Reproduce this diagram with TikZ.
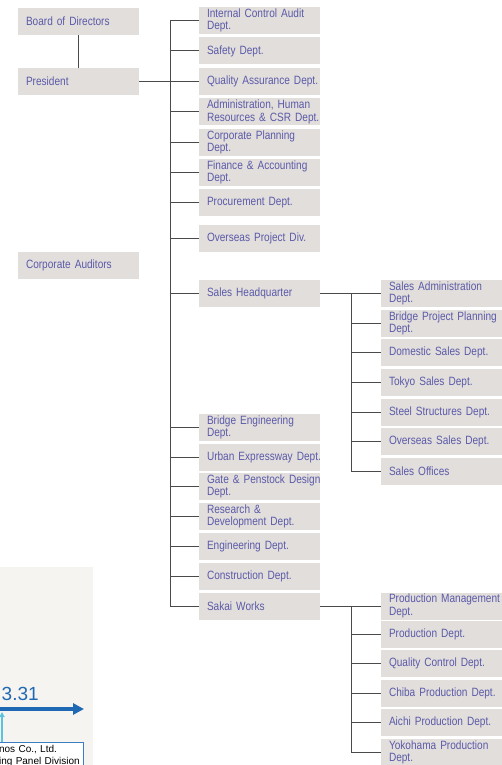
\documentclass[tikz,border=0pt]{standalone}
\usepackage{fontspec}
\setmainfont{Liberation Sans}[FakeStretch=0.84]
\newfontfamily\panelfont{Liberation Sans}
\usepackage{tikz}
\usetikzlibrary{arrows.meta}
\definecolor{BoxGray}{HTML}{E2DEDC}
\definecolor{TextPurple}{HTML}{5A5AA8}
\definecolor{LineGray}{HTML}{4A4A4A}
\definecolor{PanelBeige}{HTML}{F6F4F0}
\definecolor{ArrowBlue}{HTML}{1F68B3}
\definecolor{ArrowCyan}{HTML}{5BC2E0}
\definecolor{FrameBlue}{HTML}{3C7DC4}
\newcommand\nodebod{Board of Directors}
\newcommand\nodepres{President}
\newcommand\nodeaud{Corporate Auditors}
\newcommand\nodeica{Internal Control Audit\\Dept.}
\newcommand\nodesafe{Safety Dept.}
\newcommand\nodeqa{Quality Assurance Dept.}
\newcommand\nodeadm{Administration, Human\\Resources \& CSR Dept.}
\newcommand\nodecp{Corporate Planning\\Dept.}
\newcommand\nodefa{Finance \& Accounting\\Dept.}
\newcommand\nodeproc{Procurement Dept.}
\newcommand\nodeopd{Overseas Project Div.}
\newcommand\nodeshq{Sales Headquarter}
\newcommand\nodebe{Bridge Engineering\\Dept.}
\newcommand\nodeue{Urban Expressway Dept.}
\newcommand\nodegp{Gate \& Penstock Design\\Dept.}
\newcommand\noderd{Research \&\\Development Dept.}
\newcommand\nodeeng{Engineering Dept.}
\newcommand\nodecon{Construction Dept.}
\newcommand\nodesw{Sakai Works}
\newcommand\nodesa{Sales Administration\\Dept.}
\newcommand\nodebpp{Bridge Project Planning\\Dept.}
\newcommand\nodeds{Domestic Sales Dept.}
\newcommand\nodets{Tokyo Sales Dept.}
\newcommand\nodess{Steel Structures Dept.}
\newcommand\nodeos{Overseas Sales Dept.}
\newcommand\nodeso{Sales Offices}
\newcommand\nodepm{Production Management\\Dept.}
\newcommand\nodepd{Production Dept.}
\newcommand\nodeqc{Quality Control Dept.}
\newcommand\nodecpd{Chiba Production Dept.}
\newcommand\nodeapd{Aichi Production Dept.}
\newcommand\nodeypd{Yokohama Production\\Dept.}
\tikzstyle{unit} = [rectangle, fill=BoxGray, text=TextPurple, minimum width=121pt, minimum height=27pt, text width=121pt, inner xsep=0pt, inner ysep=1pt, font=\fontsize{12}{12.5}\selectfont, execute at begin node={\parindent=0pt\leftskip=8pt\rightskip=-30pt plus 1fil}]
\tikzstyle{link} = [draw=LineGray, line width=1pt]

\begin{document}
\begin{tikzpicture}[x=1pt, y=-1pt]
\useasboundingbox (0,0) rectangle (502,765);
% left column
\node[unit] (bod) at (78.5, 21.5) {\nodebod};
\node[unit] (pres) at (78.5, 81.5) {\nodepres};
\node[unit] (aud) at (78.5, 265.5) {\nodeaud};
% departments under the president
\node[unit] (ica) at (259.5, 20.5) {\nodeica};
\node[unit] (safe) at (259.5, 51) {\nodesafe};
\node[unit] (qa) at (259.5, 81.5) {\nodeqa};
\node[unit] (adm) at (259.5, 112) {\nodeadm};
\node[unit] (cp) at (259.5, 142.5) {\nodecp};
\node[unit] (fa) at (259.5, 172.5) {\nodefa};
\node[unit] (proc) at (259.5, 202.5) {\nodeproc};
\node[unit] (opd) at (259.5, 238.5) {\nodeopd};
\node[unit] (shq) at (259.5, 293.5) {\nodeshq};
\node[unit] (be) at (259.5, 427.5) {\nodebe};
\node[unit] (ue) at (259.5, 457.5) {\nodeue};
\node[unit] (gp) at (259.5, 486.5) {\nodegp};
\node[unit] (rd) at (259.5, 516.5) {\noderd};
\node[unit] (eng) at (259.5, 546.5) {\nodeeng};
\node[unit] (con) at (259.5, 576.5) {\nodecon};
\node[unit] (sw) at (259.5, 606) {\nodesw};
% sales headquarter
\node[unit] (sa) at (441.5, 293.5) {\nodesa};
\node[unit] (bpp) at (441.5, 323.5) {\nodebpp};
\node[unit] (ds) at (441.5, 352.5) {\nodeds};
\node[unit] (ts) at (441.5, 382.5) {\nodets};
\node[unit] (ss) at (441.5, 412.5) {\nodess};
\node[unit] (os) at (441.5, 441.5) {\nodeos};
\node[unit] (so) at (441.5, 471.5) {\nodeso};
% sakai works
\node[unit] (pm) at (441.5, 606) {\nodepm};
\node[unit] (pd) at (441.5, 634.5) {\nodepd};
\node[unit] (qc) at (441.5, 663.5) {\nodeqc};
\node[unit] (cpd) at (441.5, 693.5) {\nodecpd};
\node[unit] (apd) at (441.5, 722.5) {\nodeapd};
\node[unit] (ypd) at (441.5, 752.5) {\nodeypd};
\coordinate (trunk) at (170, 0);
\coordinate (salesbus) at (351, 0);
\coordinate (worksbus) at (351, 0);
\draw [link] (bod) -- (pres);
\draw [link] (pres) -- (qa);
\draw [link] (ica.west) -- (ica.west -| trunk) -- (sw.west -| trunk) -- (sw.west);
\draw [link] (safe.west) -- (safe.west -| trunk);
\draw [link] (adm.west) -- (adm.west -| trunk);
\draw [link] (cp.west) -- (cp.west -| trunk);
\draw [link] (fa.west) -- (fa.west -| trunk);
\draw [link] (proc.west) -- (proc.west -| trunk);
\draw [link] (opd.west) -- (opd.west -| trunk);
\draw [link] (shq.west) -- (shq.west -| trunk);
\draw [link] (be.west) -- (be.west -| trunk);
\draw [link] (ue.west) -- (ue.west -| trunk);
\draw [link] (gp.west) -- (gp.west -| trunk);
\draw [link] (rd.west) -- (rd.west -| trunk);
\draw [link] (eng.west) -- (eng.west -| trunk);
\draw [link] (con.west) -- (con.west -| trunk);
\draw [link] (shq) -- (sa);
\draw [link] (sa.west -| salesbus) -- (so.west -| salesbus) -- (so.west);
\draw [link] (bpp.west) -- (bpp.west -| salesbus);
\draw [link] (ds.west) -- (ds.west -| salesbus);
\draw [link] (ts.west) -- (ts.west -| salesbus);
\draw [link] (ss.west) -- (ss.west -| salesbus);
\draw [link] (os.west) -- (os.west -| salesbus);
\draw [link] (sw) -- (pm);
\draw [link] (pm.west -| worksbus) -- (ypd.west -| worksbus) -- (ypd.west);
\draw [link] (pd.west) -- (pd.west -| worksbus);
\draw [link] (qc.west) -- (qc.west -| worksbus);
\draw [link] (cpd.west) -- (cpd.west -| worksbus);
\draw [link] (apd.west) -- (apd.west -| worksbus);
% cut-off timeline panel, bottom left
\fill [PanelBeige] (0, 567) rectangle (93, 765);
\node[anchor=base west, inner sep=0pt, text=ArrowBlue, font=\panelfont\fontsize{19}{19}\selectfont] (date) at (1.5, 700) {3.31};
\coordinate (timestart) at (0, 709);
\coordinate (timeend) at (84, 709);
\draw [ArrowBlue, line width=3.5pt, -{Triangle[length=11pt, width=11pt]}] (timestart) -- (timeend);
\node[anchor=north east, draw=FrameBlue, fill=white, line width=0.8pt, text width=100pt, inner xsep=0pt, inner ysep=3pt, font=\panelfont\fontsize{10}{12}\selectfont, execute at begin node={\parindent=0pt\leftskip=16pt\rightskip=0pt plus 1fil}] (firm) at (83.5, 742) {nos Co., Ltd.\\ing Panel Division};
\coordinate (ticktip) at (2, 712);
\draw [ArrowCyan, line width=1.5pt, -{Triangle[length=5pt, width=5pt]}] (ticktip |- firm.north) -- (ticktip);
\end{tikzpicture}
\end{document}
